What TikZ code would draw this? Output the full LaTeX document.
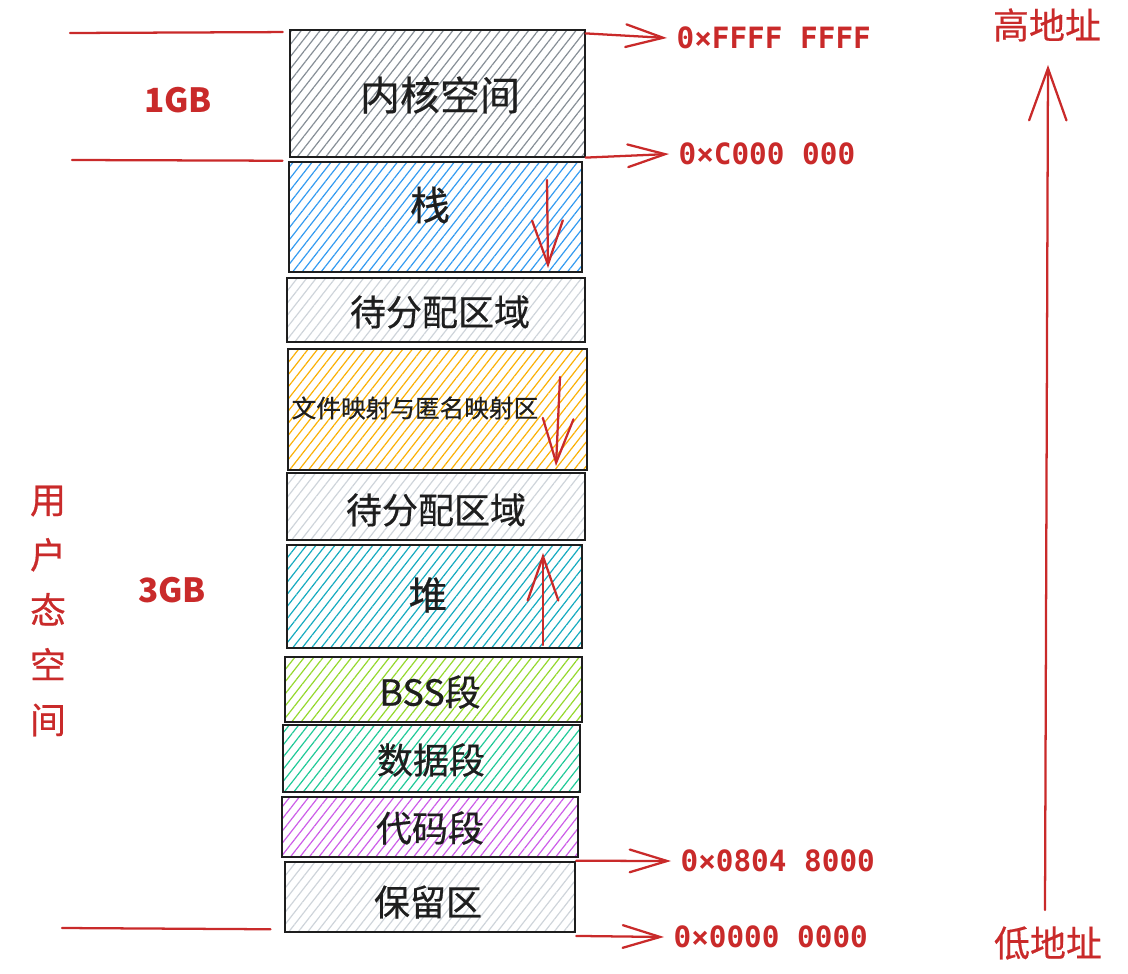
\documentclass[tikz,border=0pt]{standalone}
\usepackage{fontspec}
\setmainfont{Noto Sans CJK SC}
\newfontfamily\segfont[FakeBold=0.5]{Noto Sans CJK SC}
\newfontfamily\hexfont{DejaVu Sans Mono}
\usetikzlibrary{patterns.meta,arrows.meta}

\definecolor{inkred}{HTML}{C92A2A}
\definecolor{ink}{HTML}{1E1E1E}
\definecolor{hatchgray}{HTML}{868E96}
\definecolor{hatchlight}{HTML}{CED4DA}
\definecolor{hatchblue}{HTML}{339AF0}
\definecolor{hatchyellow}{HTML}{FAB005}
\definecolor{hatchcyan}{HTML}{15AABF}
\definecolor{hatchlime}{HTML}{94D82D}
\definecolor{hatchteal}{HTML}{20C997}
\definecolor{hatchgrape}{HTML}{CC5DE8}

\tikzset{
  sz/.style 2 args={minimum width=#1*0.75pt, minimum height=#2*0.75pt},
  membox/.style={draw=ink, line width=1.9pt, inner sep=0pt,
    pattern={Lines[angle=52,distance=5.6pt,line width=0.9pt]}},
  seglabel/.style={text=ink, inner sep=1pt, font=\segfont\fontsize{27}{30}\selectfont},
  redlabel/.style={text=inkred, inner sep=1pt, font=\segfont\fontsize{27}{30}\selectfont},
  sizelabel/.style={text=inkred, inner sep=1pt, font=\bfseries\fontsize{25}{28}\selectfont},
  hexlabel/.style={text=inkred, anchor=west, inner sep=7pt,
    font=\hexfont\bfseries\fontsize{22}{26}\selectfont},
  redline/.style={draw=inkred, line width=1.7pt, line cap=round},
  redarrow/.style={redline, -{Straight Barb[length=28pt,width=17pt,line cap=round]}},
  growarrow/.style={redline, -{Straight Barb[length=33pt,width=23pt,line cap=round]}},
  bigarrow/.style={redline, -{Straight Barb[length=39pt,width=28pt,line cap=round]}},
}

\begin{document}
\begin{tikzpicture}[x=0.75pt,y=-0.75pt]
\useasboundingbox (0,0) rectangle (1128,974);

% memory segments, top (high addresses) to bottom
\node[membox, pattern color=hatchgray,   sz={295}{127}] (kernel)   at (437.5,93.5) {};
\node[membox, pattern color=hatchblue,   sz={293}{110}] (stack)    at (435.5,217)  {};
\node[membox, pattern color=hatchlight,  sz={298}{64}]  (freeA)    at (436,310)    {};
\node[membox, pattern color=hatchyellow, sz={299}{121}] (mmap)     at (437.5,409.5){};
\node[membox, pattern color=hatchlight,  sz={298}{67}]  (freeB)    at (436,506.5)  {};
\node[membox, pattern color=hatchcyan,   sz={295}{103}] (heap)     at (434.5,596.5){};
\node[membox, pattern color=hatchlime,   sz={297}{65}]  (bss)      at (433.5,689.5){};
\node[membox, pattern color=hatchteal,   sz={297}{67}]  (data)     at (431.5,758.5){};
\node[membox, pattern color=hatchgrape,  sz={296}{60}]  (code)     at (430,827)    {};
\node[membox, pattern color=hatchlight,  sz={290}{70}]  (reserved) at (430,897)    {};

% segment names
\node[seglabel, font=\segfont\fontsize{30}{32}\selectfont] (kernelText) at (440,95)  {内核空间};
\node[seglabel, font=\segfont\fontsize{30}{32}\selectfont] (stackText)  at (430,205) {栈};
\node[seglabel] (freeAText) at (440,312) {待分配区域};
\node[seglabel, font=\segfont\fontsize{18.5}{20}\selectfont] (mmapText) at (415,408) {文件映射与匿名映射区};
\node[seglabel] (freeBText) at (436,510) {待分配区域};
\node[seglabel, font=\segfont\fontsize{29}{32}\selectfont] (heapText) at (428,595) {堆};
\node[seglabel] (bssText)      at (430,692) {BSS段};
\node[seglabel] (dataText)     at (431,760) {数据段};
\node[seglabel] (codeText)     at (430,828) {代码段};
\node[seglabel] (reservedText) at (428,902) {保留区};

% growth directions of stack, mapping area and heap
\coordinate (stackTail) at (547,180);
\coordinate (stackTip)  at (548,268);
\coordinate (mmapTail)  at (560,377);
\coordinate (mmapTip)   at (556,466);
\coordinate (heapTail)  at (543,645);
\coordinate (heapTip)   at (543,553);
\draw[growarrow] (stackTail) -- (stackTip);
\draw[growarrow] (mmapTail) -- (mmapTip);
\draw[growarrow] (heapTail) -- (heapTip);

% address marks on the right
\node[hexlabel] (hexTop)   at (667,38)  {0×FFFF FFFF};
\node[hexlabel] (hexSplit) at (669,154) {0×C000 000};
\node[hexlabel] (hexText)  at (671,861) {0×0804 8000};
\node[hexlabel] (hexZero)  at (664,937) {0×0000 0000};
\draw[redarrow] ([yshift=-3pt]kernel.north east) -- (hexTop.west);
\draw[redarrow] (kernel.south east) -- (hexSplit.west);
\draw[redarrow] (reserved.north east) -- (hexText.west);
\draw[redarrow] ([yshift=-2pt]reserved.south east) -- (hexZero.west);

% kernel / user split on the left
\coordinate (lineTopL) at (70,33);
\coordinate (lineMidL) at (72,160);
\coordinate (lineLowL) at (62,928);
\draw[redline] (lineTopL) -- ([yshift=-2pt,xshift=-5pt]kernel.north west);
\draw[redline] (lineMidL) -- ([xshift=-4pt]stack.north west);
\draw[redline] (lineLowL) -- ([yshift=3pt,xshift=-10pt]reserved.south west);
\node[sizelabel] (oneGB)   at (178,100) {1GB};
\node[sizelabel] (threeGB) at (172,590) {3GB};
\node[redlabel, align=center, font=\segfont\fontsize{27}{41.25}\selectfont] (userSpace) at (48,611) {用\\户\\态\\空\\间};

% address direction
\node[redlabel] (highAddr) at (1047,25)  {高地址};
\node[redlabel] (lowAddr)  at (1048,943) {低地址};
\coordinate (addrLow)  at (1045,910);
\coordinate (addrHigh) at (1048,65);
\draw[bigarrow] (addrLow) -- (addrHigh);
\end{tikzpicture}
\end{document}
